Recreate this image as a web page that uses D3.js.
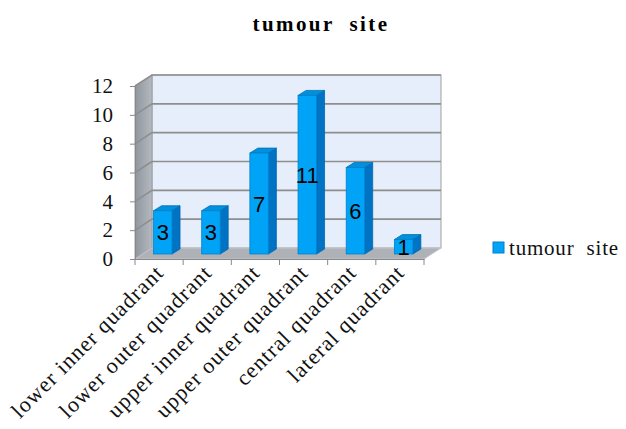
<!DOCTYPE html>
<html>
<head>
<meta charset="utf-8">
<script src="https://cdn.jsdelivr.net/npm/d3@7"></script>
<style>
  body { margin: 0; background: #fff; }
  text { white-space: pre; }
</style>
</head>
<body>
<div id="chart"></div>
<script>
var categories = ["lower inner quadrant", "lower outer quadrant", "upper inner quadrant",
  "upper outer quadrant", "central quadrant", "lateral quadrant"];
var counts = [3, 3, 7, 11, 6, 1];
var yTicks = [0, 2, 4, 6, 8, 10, 12];
var seriesName = "tumour  site";
var title = "tumour  site";

var width = 626, height = 429;
var depthX = 17, depthY = -11;   // floor / wall depth
var barDX = 8, barDY = -5;       // depth of each bar
var barOffX = 7.7, barOffY = -5; // bars sit part way back
var barW = 18.5;

var svg = d3.select("#chart").append("svg")
  .attr("width", width).attr("height", height)
  .style("font-family", "'Liberation Serif', 'Times New Roman', serif");

var x = d3.scaleBand().domain(categories).range([135, 424]).padding(0);
var y = d3.scaleLinear().domain([0, 12]).range([259, 86]);

var defs = svg.append("defs");
var g1 = defs.append("linearGradient").attr("id", "sideWall").attr("x1", 0).attr("x2", 1);
g1.append("stop").attr("offset", 0).attr("stop-color", "#8f969e");
g1.append("stop").attr("offset", 1).attr("stop-color", "#b4b9bf");

var x0 = x.range()[0], x1 = x.range()[1], y0 = y(0), yTop = y(12);

// back wall
svg.append("rect")
  .attr("x", x0 + depthX).attr("y", yTop + depthY)
  .attr("width", x1 - x0).attr("height", y0 - yTop)
  .attr("fill", "#e6eefb").attr("stroke", "#a0a0a0").attr("stroke-width", 1);

// side wall
svg.append("polygon")
  .attr("points", [[x0, y0], [x0, yTop], [x0 + depthX, yTop + depthY], [x0 + depthX, y0 + depthY]].join(" "))
  .attr("fill", "url(#sideWall)").attr("stroke", "#9a9fa5");

// floor
svg.append("polygon")
  .attr("points", [[x0, y0], [x1, y0], [x1 + depthX, y0 + depthY], [x0 + depthX, y0 + depthY]].join(" "))
  .attr("fill", "#aeb2b7").attr("stroke", "#c3c6ca");

// gridlines on walls
yTicks.filter(function(d) { return d > 0; }).forEach(function(t) {
  svg.append("polyline")
    .attr("points", [[x0, y(t)], [x0 + depthX, y(t) + depthY], [x1 + depthX, y(t) + depthY]].join(" "))
    .attr("fill", "none").attr("stroke", "#8e8e8e").attr("stroke-width", 1.6);
});

// y axis
var yAxis = svg.append("g").attr("transform", "translate(" + x0 + ",0)")
  .call(d3.axisLeft(y).tickValues(yTicks).tickSize(5).tickPadding(17));
yAxis.select(".domain").attr("stroke", "#888");
yAxis.selectAll(".tick line").attr("stroke", "#888");
yAxis.selectAll("text").attr("font-size", 21).attr("fill", "#111")
  .attr("font-family", "'Liberation Serif', serif");

// x axis
var xAxis = svg.append("g").attr("transform", "translate(0," + y0 + ")")
  .call(d3.axisBottom(x).tickValues([]).tickSizeOuter(0));
xAxis.select(".domain").attr("stroke", "#888");
var edges = categories.map(function(c) { return x(c); }).concat([x1]);
xAxis.selectAll("line.edge").data(edges).enter().append("line")
  .attr("x1", function(d) { return d; }).attr("x2", function(d) { return d; })
  .attr("y1", 0).attr("y2", 6).attr("stroke", "#888");

// category labels
svg.append("g").selectAll("text").data(categories).enter().append("text")
  .attr("transform", function(d) {
    return "translate(" + (x(d) + x.bandwidth() / 2 + 6) + "," + (y0 + 15) + ") rotate(-45)";
  })
  .attr("text-anchor", "end")
  .attr("font-size", 22).attr("fill", "#111")
  .attr("letter-spacing", 1.1)
  .text(function(d) { return d; });

// bars
var bars = svg.append("g").selectAll("g").data(counts).enter().append("g");
function bx(i) { return x(categories[i]) + (x.bandwidth() - barW - barDX) / 2 + barOffX; }
function by(d) { return y(d) + barOffY; }
var base = y(0) + barOffY;

bars.append("polygon") // side
  .attr("points", function(d, i) {
    var l = bx(i) + barW;
    return [[l, base], [l, by(d)], [l + barDX, by(d) + barDY], [l + barDX, base + barDY]].join(" ");
  })
  .attr("fill", "#0073c4").attr("stroke", "#0068b0").attr("stroke-width", 0.8);
bars.append("polygon") // top
  .attr("points", function(d, i) {
    var l = bx(i);
    return [[l, by(d)], [l + barW, by(d)], [l + barW + barDX, by(d) + barDY], [l + barDX, by(d) + barDY]].join(" ");
  })
  .attr("fill", "#0090dc").attr("stroke", "#0070b8").attr("stroke-width", 0.8);
bars.append("rect") // front
  .attr("x", function(d, i) { return bx(i); })
  .attr("y", function(d) { return by(d); })
  .attr("width", barW)
  .attr("height", function(d) { return base - by(d); })
  .attr("fill", "#00a3f5").attr("stroke", "#0080cc").attr("stroke-width", 0.8);

// value labels
bars.append("text")
  .attr("x", function(d, i) { return bx(i) + barW / 2; })
  .attr("y", function(d) { return (by(d) + base) / 2 + 8; })
  .attr("text-anchor", "middle")
  .attr("font-family", "'Liberation Sans', Arial, sans-serif")
  .attr("font-size", 22).attr("fill", "#000")
  .text(function(d) { return d; });

// title
svg.append("text")
  .attr("x", 321).attr("y", 31)
  .attr("text-anchor", "middle")
  .attr("font-size", 21).attr("font-weight", "bold")
  .attr("letter-spacing", 2.4)
  .text(title);

// legend
var legend = svg.append("g").attr("transform", "translate(493,242)");
legend.append("rect").attr("width", 11).attr("height", 11)
  .attr("fill", "#00a3f5").attr("stroke", "#0080cc");
legend.append("text").attr("x", 16).attr("y", 13)
  .attr("font-size", 21).attr("fill", "#111")
  .attr("letter-spacing", 0.8)
  .text(seriesName);
</script>
</body>
</html>
